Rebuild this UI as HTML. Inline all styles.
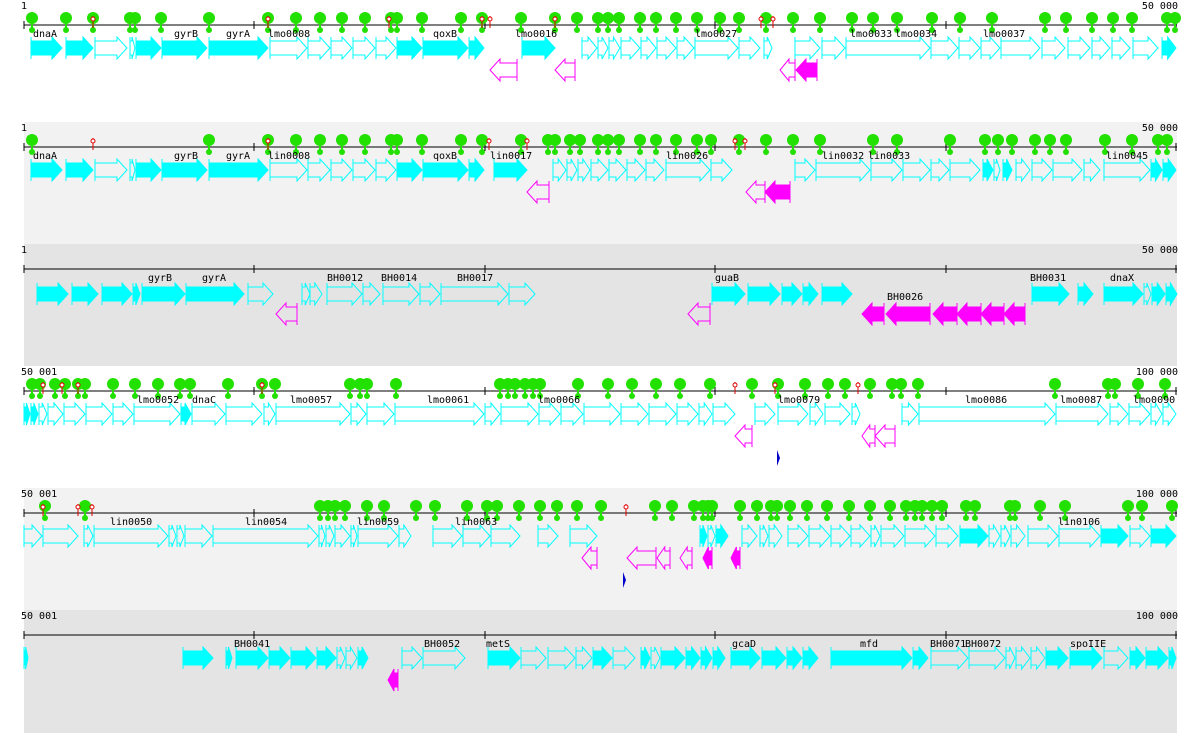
<!DOCTYPE html>
<html><head><meta charset="utf-8"><style>
html,body{margin:0;padding:0;background:#fff;}
svg{display:block;}
text{font-family:"DejaVu Sans Mono","Liberation Mono",monospace;font-size:10px;fill:#000;}
</style></head><body>
<svg id="s" width="1200" height="733" xmlns="http://www.w3.org/2000/svg">
<rect x="24" y="122" width="1153" height="122" fill="#f2f2f2"/>
<rect x="24" y="244" width="1153" height="122" fill="#e4e4e4"/>
<rect x="24" y="488" width="1153" height="122" fill="#f2f2f2"/>
<rect x="24" y="610" width="1153" height="123" fill="#e4e4e4"/>
</svg>
<script>
var s=document.getElementById('s'),out='';
function arr(x1,x2,c,dir,fill,col){
  var h=Math.min(10,(x2-x1)*0.6),p;
  if(dir>0){p=[[x1,c-7],[x2-h,c-7],[x2-h,c-11],[x2,c],[x2-h,c+11],[x2-h,c+7],[x1,c+7]];}
  else{p=[[x2,c-7],[x1+h,c-7],[x1+h,c-11],[x1,c],[x1+h,c+11],[x1+h,c+7],[x2,c+7]];}
  out+='<polygon points="'+p.map(function(q){return q.join(',')}).join(' ')+'" fill="'+(fill?col:'none')+'" stroke="'+col+'" stroke-width="1"/>';
  var tx=dir>0?x1:x2;
  out+='<line x1="'+tx+'" y1="'+(c-11)+'" x2="'+tx+'" y2="'+(c+11)+'" stroke="'+col+'"/>';
}
var T=[
{a:25,l:'1',rt:'50 000',red:[93,268,389,482,490,555,761,773],dots:[32,66,93,130,135,161,209,268,296,320,342,365,391,397,422,461,482,521,555,577,598,608,619,640,656,676,697,720,739,766,793,820,852,873,897,932,960,992,1045,1066,1092,1113,1132,1167,1175],
f:[[31,62,1],[66,93,1],[95,127,0],[130,135,0],[136,161,1],[162,207,1],[209,268,1],[270,307,0],[308,330,0],[331,352,0],[353,375,0],[376,396,0],[397,422,1],[423,468,1],[469,484,1],[522,555,1],[582,597,0],[598,608,0],[609,620,0],[621,640,0],[641,656,0],[657,676,0],[677,694,0],[695,738,0],[739,760,0],[764,772,0],[795,820,0],[822,845,0],[846,930,0],[931,958,0],[959,980,0],[981,1000,0],[1001,1040,0],[1042,1065,0],[1068,1090,0],[1092,1110,0],[1112,1130,0],[1133,1158,0],[1162,1176,1]],
r:[[490,517,0],[555,575,0],[780,795,0],[796,817,1]],
lb:[[33,'dnaA'],[174,'gyrB'],[226,'gyrA'],[268,'lmo0008'],[433,'qoxB'],[515,'lmo0016'],[695,'lmo0027'],[850,'lmo0033'],[895,'lmo0034'],[983,'lmo0037']]},
{a:147,l:'1',rt:'50 000',red:[93,268,489,527,735,745],dots:[32,209,268,296,320,342,365,391,397,422,461,482,521,548,555,570,580,598,608,619,640,656,676,697,711,739,766,793,820,873,897,950,985,998,1012,1035,1050,1066,1105,1132,1158,1167],
f:[[31,62,1],[66,93,1],[95,127,0],[130,135,0],[136,161,1],[162,207,1],[209,268,1],[270,307,0],[308,330,0],[331,352,0],[353,375,0],[376,396,0],[397,422,1],[423,468,1],[469,484,1],[494,527,1],[553,566,0],[567,577,0],[578,590,0],[591,608,0],[609,626,0],[627,645,0],[646,664,0],[666,710,0],[711,732,0],[795,815,0],[816,870,0],[871,902,0],[903,930,0],[931,949,0],[950,980,0],[983,993,1],[994,1000,0],[1003,1012,1],[1016,1030,0],[1032,1052,0],[1053,1082,0],[1084,1100,0],[1104,1150,0],[1151,1162,1],[1163,1176,1]],
r:[[527,549,0],[746,765,0],[765,790,1]],
lb:[[33,'dnaA'],[174,'gyrB'],[226,'gyrA'],[268,'lin0008'],[433,'qoxB'],[490,'lin0017'],[666,'lin0026'],[822,'lin0032'],[868,'lin0033'],[1106,'lin0045']]},
{a:269,l:'1',rt:'50 000',red:[],dots:[],
f:[[37,68,1],[72,98,1],[102,132,1],[133,140,1],[142,185,1],[186,244,1],[248,273,0],[302,310,0],[310,322,0],[327,362,0],[363,380,0],[383,419,0],[420,440,0],[441,508,0],[509,535,0],[712,745,1],[748,780,1],[782,802,1],[803,818,1],[822,852,1],[1032,1069,1],[1078,1093,1],[1104,1143,1],[1144,1151,0],[1152,1165,1],[1166,1177,1]],
r:[[276,297,0],[688,710,0],[862,884,1],[886,930,1],[933,957,1],[957,981,1],[981,1004,1],[1004,1025,1]],
lb:[[148,'gyrB'],[202,'gyrA'],[327,'BH0012'],[381,'BH0014'],[457,'BH0017'],[715,'guaB'],[887,'BH0026'],[1030,'BH0031'],[1110,'dnaX']],lo:1},
{a:391,l:'50 001',rt:'100 000',red:[43,62,78,262,735,775,858],dots:[32,40,55,65,78,85,113,135,158,180,190,228,262,275,350,360,367,396,500,508,515,525,533,540,578,608,632,656,680,710,752,778,805,828,845,870,892,901,918,1055,1108,1115,1138,1165],
f:[[24,30,1],[31,38,1],[39,47,0],[48,63,0],[64,85,0],[86,112,0],[113,133,0],[134,180,0],[181,191,1],[192,225,0],[226,262,0],[264,275,0],[276,350,0],[351,366,0],[367,394,0],[395,484,0],[485,500,0],[501,538,0],[539,560,0],[561,583,0],[584,620,0],[621,648,0],[649,676,0],[677,698,0],[699,712,0],[713,735,0],[755,775,0],[778,808,0],[810,823,0],[825,850,0],[852,860,0],[902,918,0],[919,1055,0],[1056,1108,0],[1110,1128,0],[1129,1150,0],[1151,1162,0],[1163,1176,0]],
r:[[735,752,0],[862,875,0],[875,895,0]],
lb:[[137,'lmo0052'],[192,'dnaC'],[290,'lmo0057'],[427,'lmo0061'],[538,'lmo0066'],[778,'lmo0079'],[965,'lmo0086'],[1060,'lmo0087'],[1133,'lmo0090']]},
{a:513,l:'50 001',rt:'100 000',red:[43,78,92,626],dots:[45,85,320,328,335,345,367,384,416,435,467,487,497,519,540,557,577,601,655,672,694,703,708,712,740,757,771,777,790,807,827,849,870,890,906,915,922,932,942,966,975,1010,1015,1040,1065,1128,1142,1172],
f:[[24,42,0],[43,78,0],[84,93,0],[94,168,0],[169,176,0],[177,184,0],[185,212,0],[213,318,0],[319,325,0],[326,334,0],[335,350,0],[351,357,0],[358,398,0],[399,411,0],[433,462,0],[463,490,0],[491,520,0],[538,558,0],[570,597,0],[700,707,1],[708,715,0],[716,728,1],[742,757,0],[760,768,0],[769,782,0],[788,808,0],[809,830,0],[831,850,0],[851,870,0],[871,880,0],[881,904,0],[905,935,0],[936,958,0],[960,988,1],[989,1000,0],[1001,1010,0],[1011,1025,0],[1028,1058,0],[1059,1100,0],[1101,1128,1],[1130,1150,0],[1151,1176,1]],
r:[[582,597,0],[627,656,0],[657,670,0],[680,692,0],[703,712,1],[731,740,1]],
lb:[[110,'lin0050'],[245,'lin0054'],[357,'lin0059'],[455,'lin0063'],[1058,'lin0106']]},
{a:635,l:'50 001',rt:'100 000',red:[],dots:[],
f:[[24,28,1],[183,213,1],[226,232,1],[236,268,1],[269,290,1],[291,316,1],[317,336,1],[337,345,0],[346,357,0],[358,368,1],[402,422,0],[423,465,0],[488,520,1],[521,546,0],[548,575,0],[576,592,0],[593,612,1],[613,635,0],[641,650,1],[651,660,0],[661,685,1],[686,700,1],[701,712,1],[713,725,1],[731,760,1],[762,786,1],[787,802,1],[803,818,1],[831,912,1],[913,928,1],[931,968,0],[969,1005,0],[1006,1015,0],[1016,1030,0],[1031,1045,0],[1046,1068,1],[1070,1102,1],[1104,1128,0],[1130,1145,1],[1146,1168,1],[1169,1176,1]],
r:[[388,398,1]],
lb:[[234,'BH0041'],[424,'BH0052'],[486,'metS'],[732,'gcaD'],[860,'mfd'],[930,'BH0071'],[965,'BH0072'],[1070,'spoIIE']]}
];
T.forEach(function(t,i){
  var a=t.a;
  out+='<text x="21" y="'+(a-16)+'">'+t.l+'</text>';
  out+='<text x="1178" y="'+(a-16)+'" text-anchor="end">'+t.rt+'</text>';
  out+='<line x1="24" y1="'+a+'" x2="1177" y2="'+a+'" stroke="#000"/>';
  [24,254,485,715,946,1176].forEach(function(x){out+='<line x1="'+x+'" y1="'+(a-4)+'" x2="'+x+'" y2="'+(a+4)+'" stroke="#000"/>';});
  t.dots.forEach(function(x){
    out+='<circle cx="'+x+'" cy="'+(a-7)+'" r="6" fill="#22e000"/>';
    out+='<line x1="'+x+'" y1="'+(a-7)+'" x2="'+x+'" y2="'+(a+6)+'" stroke="#22e000" stroke-width="2"/>';
    out+='<circle cx="'+x+'" cy="'+(a+5)+'" r="3" fill="#22e000"/>';
  });
  t.red.forEach(function(x){
    out+='<line x1="'+x+'" y1="'+(a-9)+'" x2="'+x+'" y2="'+(a+3)+'" stroke="#e00000"/>';
    out+='<circle cx="'+x+'" cy="'+(a-6)+'" r="2" fill="#fff" stroke="#e00000"/>';
  });
  var fc=a+23,rc=a+45;
  if(i==2){fc=a+25;rc=a+45;}
  t.f.forEach(function(g){arr(g[0],g[1],fc,1,g[2],'#00ffff');});
  t.r.forEach(function(g){arr(g[0],g[1],rc,-1,g[2],'#ff00ff');});
  t.lb.forEach(function(l){
    var y=a+12;
    if(t.lo&&l[1]=='BH0026')y=a+31;
    out+='<text x="'+l[0]+'" y="'+y+'">'+l[1]+'</text>';
  });
});
out+='<polygon points="777,450 780,458 777,466" fill="#0000cc"/>';
out+='<polygon points="623,572 626,580 623,588" fill="#0000cc"/>';
s.insertAdjacentHTML('beforeend',out);
</script>
</body></html>
